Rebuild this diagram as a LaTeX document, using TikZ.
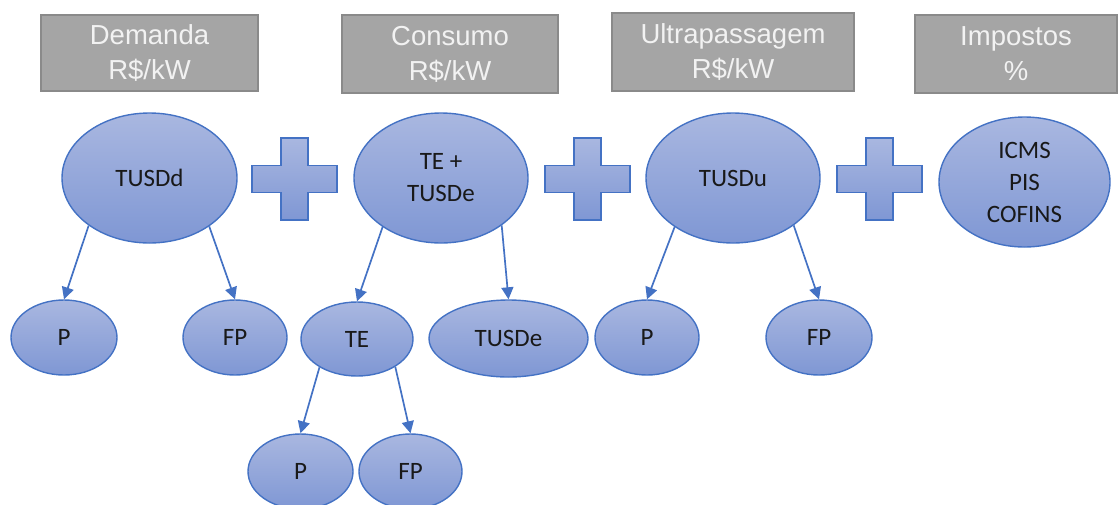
\documentclass[tikz,border=0pt]{standalone}
\usepackage{fontspec}
\setmainfont{Carlito}
\newfontfamily\arialf{Liberation Sans}
\usetikzlibrary{arrows.meta,shapes.geometric}
\definecolor{boxgray}{HTML}{A5A5A5}
\definecolor{boxedge}{HTML}{8A8A8A}
\definecolor{boxtext}{HTML}{F2F2F2}
\definecolor{blueedge}{HTML}{4472C4}
\definecolor{bluetop}{HTML}{A9B7E0}
\definecolor{bluebot}{HTML}{7F97D4}
\begin{document}
\begin{tikzpicture}[x=1pt,y=-1pt,
  hdr/.style={draw=boxedge, line width=1.2pt, fill=boxgray, text=boxtext,
    font=\arialf\fontsize{27.5}{35}\selectfont, align=center, inner sep=0pt},
  oval/.style={ellipse, draw=blueedge, line width=1.4pt, top color=bluetop,
    bottom color=bluebot, inner sep=0pt, font=\fontsize{25}{32}\selectfont,
    align=center, text=black!90},
  arr/.style={draw=blueedge, line width=1.7pt, -{Triangle[width=12pt,length=12pt]}},
  plusshape/.style={draw=blueedge, line width=1.4pt, top color=bluetop, bottom color=bluebot},
  plussign/.pic={\path[plusshape] (-42.5,-13.5) -- (-13.5,-13.5) -- (-13.5,-41) -- (13.5,-41)
    -- (13.5,-13.5) -- (42.5,-13.5) -- (42.5,13.5) -- (13.5,13.5) -- (13.5,41)
    -- (-13.5,41) -- (-13.5,13.5) -- (-42.5,13.5) -- cycle;}
]
\useasboundingbox (0,0) rectangle (1118,504);
\clip (0,0) rectangle (1118,504);

% headers
\node[hdr, minimum width=217, minimum height=76] (hdem) at (149.5,53) {Demanda\\R\$/kW};
\node[hdr, minimum width=216, minimum height=78] (hcon) at (450,54) {Consumo\\R\$/kW};
\node[hdr, minimum width=242, minimum height=78] (hult) at (733,52) {Ultrapassagem\\R\$/kW};
\node[hdr, minimum width=202, minimum height=78] (himp) at (1016,54) {Impostos\\\%};

% top ellipses
\node[oval, minimum width=175, minimum height=130] (tusdd) at (149.5,178) {TUSDd};
\node[oval, minimum width=174, minimum height=130] (tetusde) at (441,178) {TE +\\TUSDe};
\node[oval, minimum width=174, minimum height=130] (tusdu) at (733,178) {TUSDu};
\node[oval, minimum width=171, minimum height=130] (icms) at (1024.5,182) {ICMS\\PIS\\COFINS};

% plus signs
\pic at (294.5,179) {plussign};
\pic at (587.5,179) {plussign};
\pic at (879.5,179) {plussign};

% second row
\node[oval, minimum width=106, minimum height=75] (p1) at (64,337.5) {P};
\node[oval, minimum width=104, minimum height=75] (fp1) at (235,337.5) {FP};
\node[oval, minimum width=112, minimum height=74] (te) at (357,339) {TE};
\node[oval, minimum width=159, minimum height=77] (tusde) at (508.5,338.5) {TUSDe};
\node[oval, minimum width=104, minimum height=75] (p3) at (647,337.5) {P};
\node[oval, minimum width=106, minimum height=75] (fp3) at (819,337.5) {FP};

% third row
\node[oval, minimum width=105, minimum height=75] (p2) at (300.5,471.5) {P};
\node[oval, minimum width=103, minimum height=75] (fp2) at (410.5,471.5) {FP};

% arrows
\draw[arr] (tusdd.218) -- (p1.north);
\draw[arr] (tusdd.321) -- (fp1.north);
\draw[arr] (tetusde.220) -- (te.north);
\draw[arr] (tetusde.322) -- (tusde.north);
\draw[arr] (tusdu.220) -- (p3.north);
\draw[arr] (tusdu.322) -- (fp3.north);
\draw[arr] (te.217) -- (p2.north);
\draw[arr] (te.324) -- (fp2.north);
\end{tikzpicture}
\end{document}
